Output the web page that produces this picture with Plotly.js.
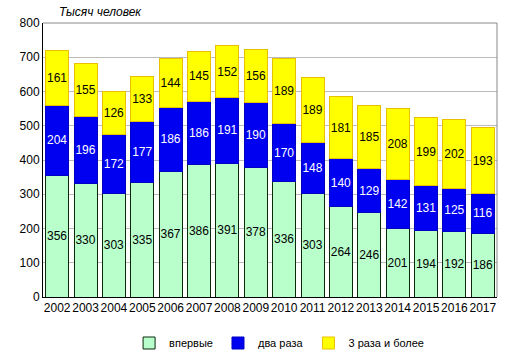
<!DOCTYPE html>
<html><head><meta charset="utf-8">
<script src="https://cdn.plot.ly/plotly-3.0.1.min.js"></script>
<style>body{margin:0;padding:0;background:#fff}#c{width:512px;height:360px}</style>
</head><body><div id="c"></div>
<script>
const years = ['2002','2003','2004','2005','2006','2007','2008','2009','2010','2011','2012','2013','2014','2015','2016','2017'];
const first = [356,330,303,335,367,386,391,378,336,303,264,246,201,194,192,186];
const twice = [204,196,172,177,186,186,191,190,170,148,140,129,142,131,125,116];
const threePlus = [161,155,126,133,144,145,152,156,189,189,181,185,208,199,202,193];
const names = ['впервые','два раза','3 раза и более'];

function tr(name, vals, fill, line, tc){
  return {type:'bar', name:name, x:years, y:vals, text:vals.map(String),
    textposition:'inside', insidetextanchor:'middle', textangle:0, constraintext:'none',
    textfont:{family:'Liberation Sans, Arial', size:12, color:tc},
    marker:{color:fill, line:{color:line, width:1}}, hoverinfo:'none'};
}
const data = [
  tr(names[0], first, '#B9FFCC', '#0A2A0A', '#000'),
  tr(names[1], twice, '#0000F0', '#0000C0', '#fff'),
  tr(names[2], threePlus, '#FFFF00', '#E8C000', '#000')
];
const layout = {
  width:512, height:360, barmode:'stack', bargap:0.19,
  margin:{l:43, r:15, t:23, b:63, autoexpand:false},
  paper_bgcolor:'#fff', plot_bgcolor:'#fff',
  font:{family:'Liberation Sans, Arial', size:12, color:'#000'},
  uniformtext:{minsize:12, mode:'show'},
  xaxis:{type:'category', showline:true, linecolor:'#000', linewidth:1, ticks:'', tickfont:{size:12}, tickangle:0, automargin:false},
  yaxis:{range:[0,800], dtick:100, showline:true, linecolor:'#000', linewidth:1, automargin:false,
    gridcolor:'#BBBBBB', gridwidth:1, tickfont:{size:12}, ticks:'', zeroline:false},
  shapes:[
    {type:'line', xref:'paper', yref:'paper', x0:0, x1:1, y0:1, y1:1, line:{color:'#888', width:1}},
    {type:'line', xref:'paper', yref:'paper', x0:1, x1:1, y0:0, y1:1, line:{color:'#888', width:1}}
  ],
  annotations:[{text:'<i>Тысяч человек</i>', xref:'paper', yref:'paper', x:0.03, y:1, yanchor:'bottom', xanchor:'left', yshift:2, showarrow:false, font:{size:12}}],
  legend:{orientation:'h', x:0.52, xanchor:'center', y:-0.115, yanchor:'top', font:{size:11}, traceorder:'normal', itemwidth:30, tracegroupgap:0},
  showlegend:true
};
Plotly.newPlot('c', data, layout, {staticPlot:true});
</script></body></html>
